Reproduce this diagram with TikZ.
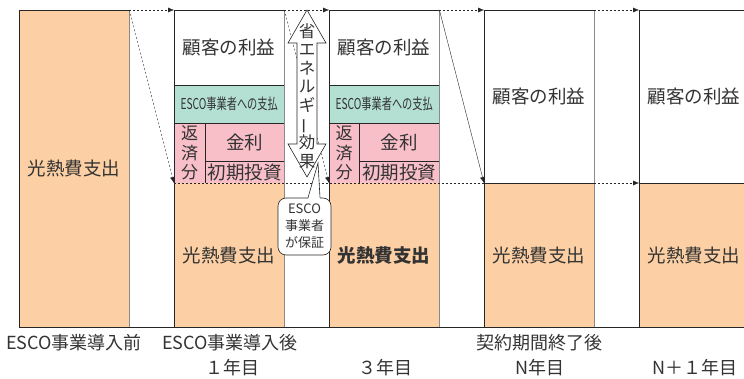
\documentclass[tikz,border=0pt]{standalone}
\usepackage{fontspec}
\setmainfont{Noto Sans CJK JP}
\usepackage{graphicx}
\usetikzlibrary{calc,arrows.meta}

\definecolor{costfill}{HTML}{FCD0A4}
\definecolor{feefill}{HTML}{B3E0D2}
\definecolor{loanfill}{HTML}{F8BFC9}
\definecolor{inkgray}{HTML}{333333}
\definecolor{edgegray}{HTML}{8A8A8A}

\tikzset{
  seg/.style={inner sep=0pt, anchor=north west, minimum width=110pt, text=inkgray},
  cost/.style={seg, fill=costfill},
  gain/.style={seg, fill=white},
  fee/.style={seg, fill=feefill, minimum height=38pt, font=\fontsize{15}{17}\selectfont},
  loan/.style={seg, fill=loanfill},
  big/.style={font=\fontsize{18.5}{22}\selectfont},
  axislabel/.style={anchor=base, text=inkgray, font=\fontsize{18}{22}\selectfont},
  outline/.style={draw=black!85, line width=0.6pt},
  rightedge/.style={draw=edgegray, line width=0.8pt},
  guide/.style={draw=black!85, dash pattern=on 2pt off 2pt, -{Latex[length=6pt,width=5pt]}},
}

\begin{document}
\begin{tikzpicture}[x=1pt, y=-1pt]
    \useasboundingbox (0,0) rectangle (744,379);
    \clip (0,0) rectangle (744,379);

    % Before ESCO
    \node[cost, big, minimum height=317pt] (b0) at (19,10) {光熱費支出};

    % Year 1
    \node[gain, big, minimum height=75pt] (w1) at (174,10) {顧客の利益};
    \node[fee] (g1) at (174,85) {\scalebox{0.68}[1]{ESCO事業者への支払}};
    \node[loan, minimum width=31pt, minimum height=60pt, align=center, font=\fontsize{17}{19.5}\selectfont] (r1) at (174,123) {返\\済\\分};
    \node[loan, big, minimum width=79pt, minimum height=38pt] (k1) at (205,123) {金利};
    \node[loan, big, minimum width=79pt, minimum height=22pt] (s1) at (205,161) {初期投資};
    \node[cost, big, minimum height=144pt] (o1) at (174,183) {光熱費支出};

    % Year 3
    \node[gain, big, minimum height=75pt] (w2) at (329,10) {顧客の利益};
    \node[fee] (g2) at (329,85) {\scalebox{0.68}[1]{ESCO事業者への支払}};
    \node[loan, minimum width=30pt, minimum height=60pt, align=center, font=\fontsize{17}{19.5}\selectfont] (r2) at (329,123) {返\\済\\分};
    \node[loan, big, minimum width=80pt, minimum height=38pt] (k2) at (359,123) {金利};
    \node[loan, big, minimum width=80pt, minimum height=22pt] (s2) at (359,161) {初期投資};
    \node[cost, minimum height=144pt, font=\fontsize{18.5}{22}\selectfont\bfseries] (o2) at (329,183) {光熱費支出};

    % Year N and N+1
    \node[gain, big, minimum height=173pt] (w3) at (484,10) {顧客の利益};
    \node[cost, big, minimum height=144pt] (o3) at (484,183) {光熱費支出};
    \node[gain, big, minimum height=173pt] (w4) at (639,10) {顧客の利益};
    \node[cost, big, minimum height=144pt] (o4) at (639,183) {光熱費支出};

    % Outlines
    \draw[outline] (b0.north west) rectangle (b0.south east);
    \draw[outline] (w1.north west) rectangle (o1.south east);
    \draw[outline] (g1.north west) -- (g1.north east) (g1.south west) -- (g1.south east)
        (r1.north east) -- (r1.south east) (k1.south west) -- (k1.south east);
    \draw[outline] (w2.north west) rectangle (o2.south east);
    \draw[outline] (g2.north west) -- (g2.north east) (g2.south west) -- (g2.south east)
        (r2.north east) -- (r2.south east) (k2.south west) -- (k2.south east);
    \draw[outline] (w3.north west) rectangle (o3.south east) (o3.north west) -- (o3.north east);
    \draw[outline] (w4.north west) rectangle (o4.south east) (o4.north west) -- (o4.north east);
    \draw[rightedge] (b0.north east) -- (b0.south east);
    \draw[rightedge] (w1.north east) -- (o1.south east);
    \draw[rightedge] (w2.north east) -- (o2.south east);
    \draw[rightedge] (w3.north east) -- (o3.south east);
    \draw[outline] (b0.south west) -- (o4.south east);

    % Guide arrows
    \draw[guide] (b0.north east) -- (w1.north west);
    \draw[guide] (b0.north east) -- (o1.north west);
    \draw[guide] (w1.north east) -- (w2.north west);
    \draw[guide] (w1.north east) -- (o2.north west);
    \draw[guide] (w2.north east) -- (w3.north west);
    \draw[guide, solid] (w2.north east) -- (o3.north west);
    \draw[guide] (w3.north east) -- (w4.north west);
    \draw[guide] (o3.north east) -- (o4.north west);
    \draw[draw=black!85, dash pattern=on 2pt off 2pt] (o1.north west) -- (o3.north west);

    % Energy saving effect
    \draw[outline, fill=white] (307,10) -- (326,43) -- (317,43) -- (317,144) -- (326,144)
        -- (307,177) -- (288,144) -- (297,144) -- (297,43) -- (288,43) -- cycle;
    \node[align=center, inner sep=0pt, text=inkgray, font=\fontsize{16.5}{18.6}\selectfont] (saving) at (307,96)
        {省\\エ\\ネ\\ル\\ギ\\\smash{\rotatebox[origin=c]{90}{ー}}\\効\\果};

    % Guarantee callout
    \node[draw=black!85, line width=0.6pt, fill=white, rounded corners=8pt, minimum width=53pt,
        minimum height=57pt, inner sep=0pt, align=center, text=inkgray,
        font=\fontsize{13}{17}\selectfont] (guarantee) at (304.5,226.5) {ESCO\\事業者\\が保証};
    \coordinate (tip) at (318,163);
    \fill[white] ($(guarantee.north)+(3.5,1.5)$) -- (tip) -- ($(guarantee.north)+(15.5,1.5)$) -- cycle;
    \draw[outline] ($(guarantee.north)+(3.5,0)$) -- (tip) -- ($(guarantee.north)+(15.5,0)$);

    % Period labels
    \node[axislabel] (pre) at (74,349) {ESCO事業導入前};
    \node[axislabel] (post) at (230,349) {ESCO事業導入後};
    \node[axislabel] (y1) at (232,374) {１年目};
    \node[axislabel] (y3) at (385,374) {３年目};
    \node[axislabel] (end) at (539,349) {契約期間終了後};
    \node[axislabel] (yn) at (540,374) {N年目};
    \node[axislabel] (yn1) at (695,374) {N＋１年目};
\end{tikzpicture}
\end{document}
